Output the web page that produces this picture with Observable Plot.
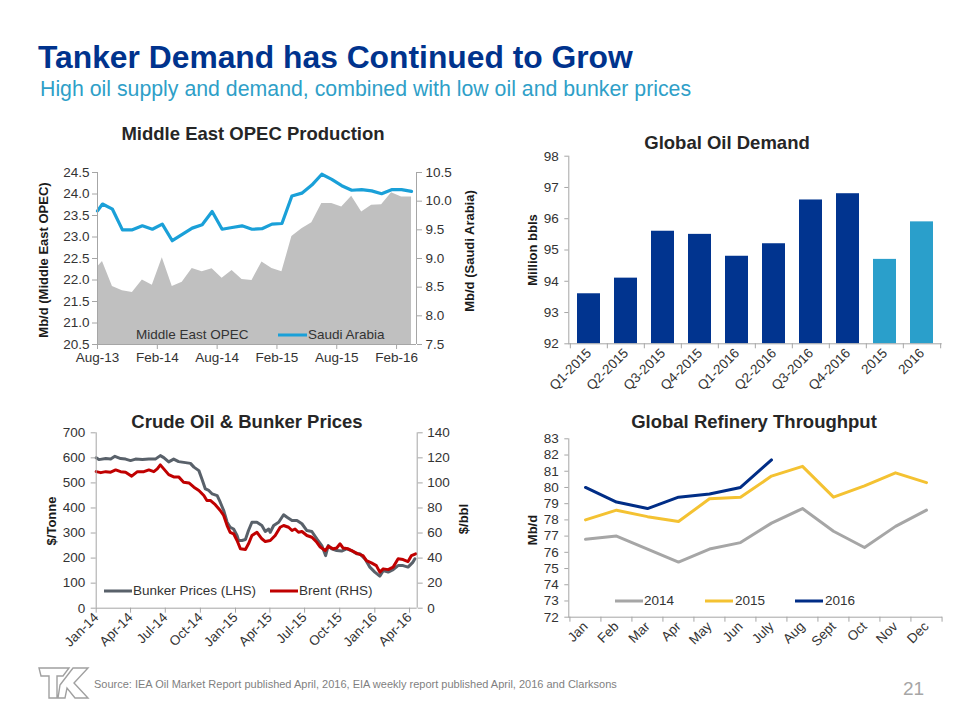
<!DOCTYPE html>
<html>
<head>
<meta charset="utf-8">
<script src="https://cdn.jsdelivr.net/npm/d3@7"></script>
<script src="https://cdn.jsdelivr.net/npm/@observablehq/plot@0.6"></script>
<style>
  body { margin: 0; background: #fff; font-family: "Liberation Sans", Arial, Helvetica, sans-serif; }
  #page { position: relative; width: 960px; height: 720px; overflow: hidden; background: #fff; }
  .abs { position: absolute; white-space: nowrap; line-height: 1; }
  .vc { transform: translateY(-50%); }
  .ctitle { font-weight: bold; font-size: 18.5px; color: #262626; transform: translate(-50%, -50%); }
  .ylab { font-weight: bold; font-size: 13px; color: #1a1a1a; transform: translate(-50%, -50%) rotate(-90deg); }
  .leg { font-size: 13.5px; color: #333; transform: translateY(-50%); }
  .sw { position: absolute; height: 3px; transform: translateY(-50%); }
  .chart { position: absolute; }
</style>
</head>
<body>
<div id="page">
  <div class="abs vc" style="left:38px; top:58px; font-size:31.8px; font-weight:bold; color:#00338d;">Tanker Demand has Continued to Grow</div>
  <div class="abs vc" style="left:40px; top:90px; font-size:21.3px; color:#2f9fc8;">High oil supply and demand, combined with low oil and bunker prices</div>

  <div class="abs ctitle" style="left:253px; top:134px;">Middle East OPEC Production</div>
  <div class="abs ctitle" style="left:727px; top:143px;">Global Oil Demand</div>
  <div class="abs ctitle" style="left:247px; top:422px;">Crude Oil &amp; Bunker Prices</div>
  <div class="abs ctitle" style="left:754px; top:422px;">Global Refinery Throughput</div>

  <div class="abs ylab" style="left:43px; top:260px;">Mb/d (Middle East OPEC)</div>
  <div class="abs ylab" style="left:469px; top:251px;">Mb/d (Saudi Arabia)</div>
  <div class="abs ylab" style="left:532px; top:250px;">Million bbls</div>
  <div class="abs ylab" style="left:51px; top:521px;">$/Tonne</div>
  <div class="abs ylab" style="left:463px; top:519px;">$/bbl</div>
  <div class="abs ylab" style="left:532px; top:530px;">Mb/d</div>

  <div id="c1" class="chart" style="left:0px; top:115px;"></div>
  <div id="c2" class="chart" style="left:480px; top:130px;"></div>
  <div id="c3" class="chart" style="left:0px; top:410px;"></div>
  <div id="c4" class="chart" style="left:480px; top:410px;"></div>

  <!-- legends -->
  <div class="abs leg" style="left:136px; top:335px;">Middle East OPEC</div>
  <div class="sw" style="left:278px; top:335px; width:29px; background:#1aa0d8;"></div>
  <div class="abs leg" style="left:308px; top:335px;">Saudi Arabia</div>

  <div class="sw" style="left:104px; top:591px; width:28px; background:#59616a;"></div>
  <div class="abs leg" style="left:133px; top:591px;">Bunker Prices (LHS)</div>
  <div class="sw" style="left:270px; top:591px; width:28px; background:#c00000;"></div>
  <div class="abs leg" style="left:299px; top:591px;">Brent (RHS)</div>

  <div class="sw" style="left:615px; top:601px; width:28px; background:#a6a6a6;"></div>
  <div class="abs leg" style="left:644px; top:601px;">2014</div>
  <div class="sw" style="left:705px; top:601px; width:28px; background:#f4c232;"></div>
  <div class="abs leg" style="left:735px; top:601px;">2015</div>
  <div class="sw" style="left:795px; top:601px; width:28px; background:#002d86;"></div>
  <div class="abs leg" style="left:825px; top:601px;">2016</div>

  <!-- footer -->
  <svg class="abs" style="left:38px; top:667px;" width="52" height="33" viewBox="0 0 52 33">
    <path d="M1,1 H31 L25,9 H19 V31 H11 V9 H3 Z M22,18 L35,1 H50 L36,16 L50,31 H37 L29,21 L27,31 H20 Z" fill="none" stroke="#a0a0a0" stroke-width="1.4" stroke-linejoin="miter"/>
  </svg>
  <div class="abs vc" style="left:94px; top:684px; font-size:11px; color:#7f7f7f;">Source: IEA Oil Market Report published April, 2016, EIA weekly report published April, 2016 and Clarksons</div>
  <div class="abs vc" style="left:903px; top:688px; font-size:19px; color:#a6a6a6;">21</div>
</div>

<script>
// ---------------- DATA ----------------
// Middle East OPEC Production (months since Aug-13)
const opecMonth = [0, 0.5, 1.5, 2.5, 3.5, 4.5, 5.5, 6.5, 7.5, 8.5, 9.5, 10.5, 11.5, 12.5, 13.5, 14.5, 15.5, 16.5, 17.5, 18.5, 19.5, 20.5, 21.5, 22.5, 23.5, 24.5, 25.5, 26.5, 27.5, 28.5, 29.5, 30.5, 31.5];
const opecMiddleEast = [22.3, 22.43, 21.85, 21.75, 21.71, 22.0, 21.88, 22.52, 21.85, 21.95, 22.27, 22.19, 22.26, 22.04, 22.22, 22.01, 21.99, 22.42, 22.27, 22.19, 23.01, 23.19, 23.33, 23.78, 23.78, 23.7, 23.95, 23.58, 23.74, 23.75, 24.03, 23.93, 23.93];
const opecSaudi = [9.83, 9.95, 9.86, 9.5, 9.5, 9.57, 9.51, 9.6, 9.31, 9.42, 9.53, 9.59, 9.82, 9.51, 9.54, 9.57, 9.51, 9.52, 9.6, 9.61, 10.09, 10.14, 10.28, 10.47, 10.38, 10.27, 10.19, 10.2, 10.18, 10.13, 10.2, 10.2, 10.17];
const opecTickMonths = [0, 6, 12, 18, 24, 30];
const opecTickLabels = ["Aug-13", "Feb-14", "Aug-14", "Feb-15", "Aug-15", "Feb-16"];
const opecLeftTicks = [20.5, 21, 21.5, 22, 22.5, 23, 23.5, 24, 24.5];
const opecRightTicks = [7.5, 8, 8.5, 9, 9.5, 10, 10.5];

// Global Oil Demand
const demandCats = ["Q1-2015", "Q2-2015", "Q3-2015", "Q4-2015", "Q1-2016", "Q2-2016", "Q3-2016", "Q4-2016", "2015", "2016"];
const demandVals = [93.6, 94.1, 95.6, 95.5, 94.8, 95.2, 96.6, 96.8, 94.7, 95.9];
const demandTicks = [92, 93, 94, 95, 96, 97, 98];

// Crude Oil & Bunker Prices
const bunkerDates = ["2014-01-01","2014-01-08","2014-01-26","2014-02-08","2014-02-19","2014-03-06","2014-03-19","2014-04-01","2014-04-14","2014-05-02","2014-05-19","2014-06-05","2014-06-18","2014-06-27","2014-07-10","2014-07-23","2014-08-05","2014-08-23","2014-09-05","2014-09-14","2014-09-27","2014-10-05","2014-10-14","2014-10-23","2014-11-01","2014-11-14","2014-11-22","2014-12-01","2014-12-10","2014-12-18","2014-12-27","2015-01-05","2015-01-09","2015-01-18","2015-01-27","2015-02-04","2015-02-13","2015-02-26","2015-03-11","2015-03-20","2015-03-29","2015-04-02","2015-04-11","2015-04-24","2015-05-07","2015-05-16","2015-05-29","2015-06-11","2015-06-24","2015-07-07","2015-07-20","2015-08-02","2015-08-15","2015-08-25","2015-09-01","2015-09-10","2015-09-23","2015-10-06","2015-10-19","2015-11-01","2015-11-14","2015-11-23","2015-12-06","2015-12-19","2016-01-01","2016-01-14","2016-01-23","2016-02-05","2016-02-18","2016-03-02","2016-03-15","2016-03-28","2016-04-10","2016-04-15"];
const bunkerVals = [600,593,597,595,606,597,595,589,595,593,595,595,609,601,584,595,585,581,578,563,549,516,476,470,456,449,423,390,343,323,316,290,270,270,274,310,343,343,330,306,316,303,330,343,373,363,350,350,337,310,306,277,250,210,250,237,230,228,237,230,217,217,197,164,144,128,150,144,154,170,170,164,184,197];
const brentDates = ["2014-01-01","2014-01-13","2014-01-26","2014-02-08","2014-02-21","2014-03-06","2014-03-19","2014-04-04","2014-04-19","2014-05-06","2014-05-19","2014-06-01","2014-06-10","2014-06-18","2014-06-27","2014-07-10","2014-07-23","2014-08-05","2014-08-18","2014-09-01","2014-09-14","2014-09-27","2014-10-10","2014-10-18","2014-10-27","2014-11-09","2014-11-22","2014-12-01","2014-12-10","2014-12-18","2014-12-27","2015-01-05","2015-01-14","2015-01-27","2015-02-04","2015-02-13","2015-02-26","2015-03-11","2015-03-20","2015-04-02","2015-04-15","2015-04-28","2015-05-07","2015-05-20","2015-05-29","2015-06-06","2015-06-15","2015-06-24","2015-07-07","2015-07-20","2015-08-02","2015-08-11","2015-08-24","2015-09-01","2015-09-14","2015-09-23","2015-10-02","2015-10-10","2015-10-23","2015-11-05","2015-11-18","2015-12-01","2015-12-10","2015-12-23","2016-01-05","2016-01-14","2016-01-23","2016-02-05","2016-02-18","2016-03-02","2016-03-15","2016-03-28","2016-04-06","2016-04-17"];
const brentVals = [109,108.2,109,108.6,110.4,109,108.6,105.4,109,109,110.4,109,111.2,114.4,111.2,106.6,104.8,104.8,100.6,100,96.6,94,90,86,86,82.6,78,74,66,60.6,59.4,54,47.4,46.8,51.4,58,60.6,55.4,53.2,54,58,64.6,66,64.6,62,63.2,60.6,61.2,58,56.6,52.6,48.8,46,49.4,47.4,48,51.4,48,47.4,45.4,43.4,42,38,36.2,34,28.8,31.4,30.8,32.8,39.4,38.8,37.2,42,43.4];
const priceTickDates = ["2014-01-01","2014-04-01","2014-07-01","2014-10-01","2015-01-01","2015-04-01","2015-07-01","2015-10-01","2016-01-01","2016-04-01"];
const priceLeftTicks = [0, 100, 200, 300, 400, 500, 600, 700];
const priceRightTicks = [0, 20, 40, 60, 80, 100, 120, 140];

// Global Refinery Throughput
const refMonths = ["Jan", "Feb", "Mar", "Apr", "May", "Jun", "July", "Aug", "Sept", "Oct", "Nov", "Dec"];
const refYears = ["2014", "2015", "2016"];
const ref2014 = [76.8, 77.0, 76.2, 75.4, 76.2, 76.6, 77.8, 78.7, 77.3, 76.3, 77.6, 78.6];
const ref2015 = [78.0, 78.6, 78.2, 77.9, 79.3, 79.4, 80.7, 81.3, 79.4, 80.1, 80.9, 80.3];
const ref2016 = [80.0, 79.1, 78.7, 79.4, 79.6, 80.0, 81.7];
const refTicks = [72, 73, 74, 75, 76, 77, 78, 79, 80, 81, 82, 83];

// ---------------- STYLE ----------------
const fontFam = '"Liberation Sans", Arial, Helvetica, sans-serif';
const axisC = "#a6a6a6";
const textC = "#333333";
const baseStyle = {fontFamily: fontFam, fontSize: "13.5px", color: textC, background: "transparent", overflow: "visible"};

// ---------------- CHART 1 ----------------
{
  const W = 480, H = 260, mL = 97, mR = 64, mT = 57, mB = 31;
  const k = (24.5 - 20.5) / (10.5 - 7.5);
  const toLeft = v => 20.5 + (v - 7.5) * k;
  const fromLeft = v => 7.5 + (v - 20.5) / k;
  const rows = opecMonth.map((m, i) => ({m, me: opecMiddleEast[i], sa: opecSaudi[i]}));
  const chart = Plot.plot({
    width: W, height: H, marginLeft: mL, marginRight: mR, marginTop: mT, marginBottom: mB,
    style: baseStyle,
    x: {domain: [0, 32]},
    y: {domain: [20.5, 24.5]},
    marks: [
      Plot.areaY(rows, {x: "m", y1: 20.5, y2: "me", fill: "#c0c0c0"}),
      Plot.line(rows, {x: "m", y: d => toLeft(d.sa), stroke: "#1aa0d8", strokeWidth: 3.2, strokeLinejoin: "round"}),
      Plot.ruleY([20.5], {stroke: axisC}),
      Plot.ruleX([0], {stroke: axisC}),
      Plot.ruleX([32], {stroke: axisC}),
      Plot.axisY({anchor: "left", ticks: opecLeftTicks, tickFormat: d3.format(".1f"), tickSize: 5, tickPadding: 3, stroke: axisC, fill: textC, label: null}),
      Plot.axisY({anchor: "right", ticks: opecRightTicks.map(toLeft), tickFormat: d => d3.format(".1f")(fromLeft(d)), tickSize: 5, tickPadding: 4, stroke: axisC, fill: textC, label: null}),
      Plot.axisX({ticks: opecTickMonths, tickFormat: d => opecTickLabels[opecTickMonths.indexOf(d)], tickSize: 5, tickPadding: 3, stroke: axisC, fill: textC, label: null})
    ]
  });
  document.getElementById("c1").appendChild(chart);
}

// ---------------- CHART 2 ----------------
{
  const W = 480, H = 280, mL = 88.3, mR = 18.3, mT = 25.7, mB = 66.7;
  const rows = demandCats.map((c, i) => ({c, v: demandVals[i]}));
  const half = (W - mL - mR) / demandCats.length / 2;
  const chart = Plot.plot({
    width: W, height: H, marginLeft: mL, marginRight: mR, marginTop: mT, marginBottom: mB,
    style: baseStyle,
    x: {type: "band", domain: demandCats, paddingInner: 0.39, paddingOuter: 0.195},
    y: {domain: [92, 98]},
    marks: [
      Plot.barY(rows, {x: "c", y1: 92, y2: "v", fill: d => /^Q/.test(d.c) ? "#01348f" : "#2a9fcb"}),
      Plot.ruleY([92], {stroke: axisC}),
      Plot.frame({anchor: "left", stroke: axisC}),
      Plot.axisY({anchor: "left", ticks: demandTicks, tickFormat: d3.format("d"), tickSize: 4, tickPadding: 6, stroke: axisC, fill: textC, label: null}),
      Plot.axisX({tickSize: 0, tickPadding: 7, tickRotate: -45, fill: textC, stroke: "none", label: null}),
      Plot.axisX({tickSize: 5, tickFormat: () => "", dx: -half, stroke: axisC, label: null}),
      Plot.axisX({ticks: [demandCats[demandCats.length - 1]], tickSize: 5, tickFormat: () => "", dx: half, stroke: axisC, label: null})
    ]
  });
  document.getElementById("c2").appendChild(chart);
}

// ---------------- CHART 3 ----------------
{
  const W = 480, H = 260, mL = 95.7, mR = 63.3, mT = 22.3, mB = 62.3;
  const k = 700 / 140;
  const bunker = bunkerDates.map((d, i) => ({d: new Date(d), v: bunkerVals[i]}));
  const brent = brentDates.map((d, i) => ({d: new Date(d), v: brentVals[i]}));
  const xEnd = new Date("2016-04-21");
  const chart = Plot.plot({
    width: W, height: H, marginLeft: mL, marginRight: mR, marginTop: mT, marginBottom: mB,
    style: baseStyle,
    x: {type: "utc", domain: [new Date("2014-01-01"), xEnd]},
    y: {domain: [0, 700]},
    marks: [
      Plot.line(bunker, {x: "d", y: "v", stroke: "#59616a", strokeWidth: 3, strokeLinejoin: "round"}),
      Plot.line(brent, {x: "d", y: d => d.v * k, stroke: "#c00000", strokeWidth: 3, strokeLinejoin: "round"}),
      Plot.ruleY([0], {stroke: axisC}),
      Plot.ruleX([new Date("2014-01-01")], {stroke: axisC}),
      Plot.ruleX([xEnd], {stroke: axisC}),
      Plot.axisY({anchor: "left", ticks: priceLeftTicks, tickFormat: d3.format("d"), tickSize: 5, tickPadding: 6, stroke: axisC, fill: textC, label: null}),
      Plot.axisY({anchor: "right", ticks: priceRightTicks.map(v => v * k), tickFormat: d => d3.format("d")(d / k), tickSize: 5, tickPadding: 5, stroke: axisC, fill: textC, label: null}),
      Plot.axisX({ticks: priceTickDates.map(d => new Date(d)), tickFormat: d3.utcFormat("%b-%y"), tickSize: 5, tickPadding: 2, tickRotate: -45, stroke: axisC, fill: textC, label: null})
    ]
  });
  document.getElementById("c3").appendChild(chart);
}

// ---------------- CHART 4 ----------------
{
  const W = 480, H = 260, mL = 88.3, mR = 18, mT = 28.3, mB = 53.3;
  const series = [ref2014, ref2015, ref2016];
  const rows = [];
  series.forEach((vals, j) => vals.forEach((v, i) => rows.push({m: refMonths[i], year: refYears[j], v})));
  const half = (W - mL - mR) / refMonths.length / 2;
  const chart = Plot.plot({
    width: W, height: H, marginLeft: mL, marginRight: mR, marginTop: mT, marginBottom: mB,
    style: baseStyle,
    x: {type: "point", domain: refMonths, padding: 0.5},
    y: {domain: [72, 83]},
    color: {domain: refYears, range: ["#a6a6a6", "#f4c232", "#002d86"]},
    marks: [
      Plot.line(rows, {x: "m", y: "v", stroke: "year", strokeWidth: 3, strokeLinejoin: "round"}),
      Plot.ruleY([72], {stroke: axisC}),
      Plot.frame({anchor: "left", stroke: axisC}),
      Plot.axisY({anchor: "left", ticks: refTicks, tickFormat: d3.format("d"), tickSize: 4, tickPadding: 6, stroke: axisC, fill: textC, label: null}),
      Plot.axisX({tickSize: 0, tickPadding: 7, tickRotate: -45, fill: textC, stroke: "none", label: null}),
      Plot.axisX({tickSize: 5, tickFormat: () => "", dx: -half, stroke: axisC, label: null}),
      Plot.axisX({ticks: [refMonths[refMonths.length - 1]], tickSize: 5, tickFormat: () => "", dx: half, stroke: axisC, label: null})
    ]
  });
  document.getElementById("c4").appendChild(chart);
}
</script>
</body>
</html>
